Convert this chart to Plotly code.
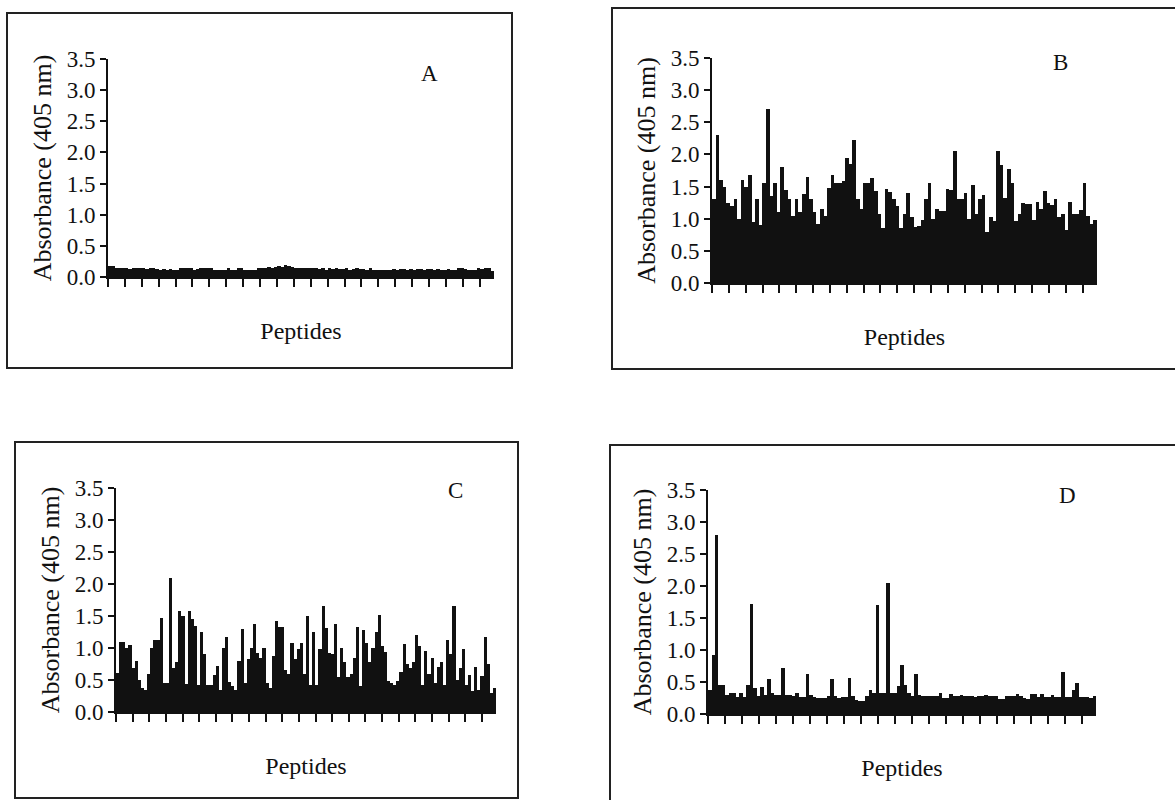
import plotly.graph_objects as go

# ---------------- data (absorbance at 405 nm for each peptide) ----------------
panel_letters = ["A", "B", "C", "D"]

absorbance_A = [0.18, 0.17,
                0.15, 0.14, 0.15, 0.15, 0.13, 0.15, 0.14, 0.15,
                0.14, 0.13, 0.14, 0.15, 0.13,
                0.12, 0.13, 0.12, 0.13, 0.12, 0.12,
                0.15, 0.15, 0.14, 0.15,
                0.12, 0.13,
                0.15, 0.15, 0.14, 0.15,
                0.12, 0.11, 0.12, 0.12,
                0.14,
                0.11, 0.12,
                0.15, 0.15,
                0.12, 0.11, 0.12, 0.12,
                0.15, 0.15, 0.14,
                0.16, 0.15, 0.16, 0.17, 0.16,
                0.19, 0.18,
                0.16, 0.15, 0.15, 0.14, 0.15, 0.14, 0.14, 0.15, 0.13, 0.14,
                0.12, 0.14, 0.13, 0.14, 0.13, 0.13, 0.14, 0.12, 0.13, 0.14, 0.13, 0.13, 0.12, 0.14,
                0.12, 0.12, 0.11, 0.12, 0.12, 0.11,
                0.13, 0.12, 0.13, 0.13, 0.12, 0.13, 0.12, 0.13, 0.13, 0.12, 0.13, 0.13, 0.12,
                0.13, 0.12, 0.12, 0.13, 0.12, 0.12,
                0.14, 0.14, 0.13,
                0.11, 0.12, 0.11,
                0.14, 0.13, 0.14, 0.15,
                0.10]

absorbance_B = [1.3, 2.3, 1.6, 1.5, 1.25, 1.2, 1.3, 1.0, 1.6, 1.5,
                1.68, 0.95, 1.3, 0.9, 1.55, 2.7, 1.35, 1.55, 1.1, 1.8,
                1.45, 1.3, 1.05, 1.3, 1.1, 1.38, 1.65, 1.3, 1.1, 0.92,
                1.15, 1.05, 1.48, 1.68, 1.55, 1.55, 1.58, 1.95, 1.85, 2.22,
                1.3, 1.15, 1.55, 1.55, 1.63, 1.43, 1.08, 0.85, 1.47, 1.42,
                1.3, 1.2, 0.85, 1.08, 1.4, 1.03, 0.87, 0.88, 0.98, 1.31,
                1.55, 1.0, 1.15, 1.12, 1.12, 1.47, 1.45, 2.05, 1.3, 1.3,
                1.4, 1.0, 1.52, 1.08, 1.3, 1.37, 0.8, 1.03, 0.97, 2.05,
                1.83, 1.33, 1.78, 1.55, 0.97, 1.08, 1.25, 1.23, 1.23, 0.98,
                1.26, 1.15, 1.43, 1.24, 1.21, 1.31, 1.03, 1.08, 0.82, 1.26,
                1.07, 1.07, 1.14, 1.55, 1.05, 0.92, 0.98]

absorbance_C = [0.61, 1.1, 1.1, 1.0, 1.05, 0.68, 0.8, 0.5, 0.38, 0.35,
                0.6, 1.0, 1.13, 1.13, 1.47, 0.45, 0.45, 2.1, 0.68, 0.78,
                1.58, 1.5, 0.43, 1.58, 1.45, 1.35, 0.42, 1.25, 0.9, 0.42,
                0.42, 0.58, 0.72, 0.35, 1.0, 1.17, 0.47, 0.4, 0.35, 0.8,
                1.3, 0.45, 0.83, 1.0, 1.37, 0.92, 0.85, 1.0, 0.45, 0.38,
                0.88, 1.42, 1.33, 1.33, 0.65, 0.6, 1.08, 0.83, 0.98, 1.08,
                0.6, 1.5, 0.42, 1.25, 0.42, 0.98, 1.65, 1.32, 0.92, 0.9,
                1.37, 0.55, 1.0, 0.78, 0.55, 0.6, 0.85, 1.33, 0.4, 1.28,
                1.08, 0.78, 1.0, 1.25, 1.52, 1.03, 0.93, 0.48, 0.45, 0.42,
                0.48, 0.62, 1.07, 0.75, 0.68, 0.78, 1.2, 1.03, 0.42, 0.95,
                0.6, 0.85, 0.45, 0.7, 0.78, 0.42, 1.12, 0.9, 1.65, 0.5,
                0.68, 0.98, 0.42, 0.58, 0.33, 0.7, 0.35, 0.57, 1.17, 0.75,
                0.3, 0.38]

absorbance_D = [0.38, 0.92, 2.8, 0.45, 0.45, 0.3, 0.33, 0.33, 0.27, 0.33,
                0.27, 0.45, 1.72, 0.4, 0.28, 0.42, 0.3, 0.55, 0.33, 0.3,
                0.3, 0.72, 0.3, 0.3, 0.28, 0.33, 0.27, 0.27, 0.62, 0.3,
                0.27, 0.25, 0.25, 0.25, 0.28, 0.55, 0.28, 0.25, 0.27, 0.27,
                0.57, 0.28, 0.22, 0.2, 0.2, 0.28, 0.37, 0.33, 1.7, 0.33,
                0.33, 2.05, 0.33, 0.33, 0.43, 0.77, 0.45, 0.33, 0.28, 0.62,
                0.3, 0.28, 0.28, 0.28, 0.28, 0.28, 0.33, 0.25, 0.25, 0.32,
                0.28, 0.28, 0.29, 0.28, 0.28, 0.28, 0.27, 0.28, 0.28, 0.29,
                0.28, 0.28, 0.28, 0.23, 0.23, 0.28, 0.28, 0.28, 0.32, 0.28,
                0.25, 0.23, 0.32, 0.32, 0.27, 0.32, 0.27, 0.27, 0.3, 0.27,
                0.27, 0.65, 0.27, 0.27, 0.37, 0.48, 0.27, 0.27, 0.27, 0.25,
                0.28]

y_tick_values = [0.0, 0.5, 1.0, 1.5, 2.0, 2.5, 3.0, 3.5]
y_tick_labels = ["0.0", "0.5", "1.0", "1.5", "2.0", "2.5", "3.0", "3.5"]
y_title = "Absorbance (405 nm)"
x_title = "Peptides"

series = [absorbance_A, absorbance_B, absorbance_C, absorbance_D]

# ---------------- layout (page pixels of a 1175 x 800 page) ----------------
W, H = 1175, 800
# plot area: x0, x1 (bar span), y of 0.0, y of 3.5
plot_px = [(108, 494, 277, 59),
           (712, 1097, 283, 58),
           (116, 496, 712, 488),
           (708, 1096, 714, 490)]
# frame boxes: x0, y0, x1, y1
frame_px = [(7, 13, 512, 368),
            (612, 8, 1185, 369),
            (15, 442, 518, 798),
            (610, 445, 1185, 810)]
# panel letter positions
letter_px = [(430, 73), (1060, 62), (455, 490), (1067, 495)]
TICK_INTERVALS = 22.85   # tick intervals across the bar span

SERIF = "Liberation Serif, Times New Roman, serif"
INK = "#111111"

fig = go.Figure()
layout = dict(width=W, height=H, margin=dict(l=0, r=0, t=0, b=0, pad=0, autoexpand=False),
              paper_bgcolor="white", plot_bgcolor="white",
              showlegend=False, bargap=0, shapes=[], annotations=[])

for k, vals in enumerate(series):
    n = len(vals)
    sfx = "" if k == 0 else str(k + 1)
    xa, ya = "x" + sfx, "y" + sfx
    fig.add_trace(go.Bar(x=list(range(1, n + 1)), y=vals, xaxis=xa, yaxis=ya,
                         marker=dict(color=INK, line=dict(width=0)), width=1.0))
    x0, x1, yb, yt = plot_px[k]
    step = n / TICK_INTERVALS
    layout["xaxis" + sfx] = dict(
        domain=[x0 / W, x1 / W], anchor=ya, range=[0.5, n + 0.5], automargin=False,
        showgrid=False, zeroline=False, showline=True, linecolor=INK, linewidth=2,
        ticks="outside", ticklen=8, tickwidth=2, tickcolor=INK,
        tickvals=[0.5 + i * step for i in range(23)], showticklabels=False,
        title=dict(text=x_title, font=dict(family=SERIF, size=24, color=INK), standoff=36))
    layout["yaxis" + sfx] = dict(
        domain=[1 - yb / H, 1 - yt / H], anchor=xa, range=[0, 3.5], automargin=False,
        showgrid=False, zeroline=False, showline=True, linecolor=INK, linewidth=2,
        ticks="outside", ticklen=6, tickwidth=2, tickcolor=INK,
        tickvals=y_tick_values, ticktext=y_tick_labels,
        tickfont=dict(family=SERIF, size=23, color=INK),
        title=dict(text=y_title, font=dict(family=SERIF, size=26, color=INK), standoff=8))
    fx0, fy0, fx1, fy1 = frame_px[k]
    layout["shapes"].append(dict(type="rect", xref="paper", yref="paper",
                                 x0=fx0 / W, x1=fx1 / W, y0=1 - fy1 / H, y1=1 - fy0 / H,
                                 line=dict(color="#222222", width=2), fillcolor="rgba(0,0,0,0)"))
    lx, ly = letter_px[k]
    layout["annotations"].append(dict(text=panel_letters[k], xref="paper", yref="paper",
                                      x=lx / W, y=1 - ly / H, showarrow=False,
                                      xanchor="center", yanchor="middle",
                                      font=dict(family=SERIF, size=23, color=INK)))

fig.update_layout(**layout)
fig.write_html("out.html", config={"displayModeBar": False},
               post_script="document.body.style.margin='0';document.body.style.overflow='hidden';")
